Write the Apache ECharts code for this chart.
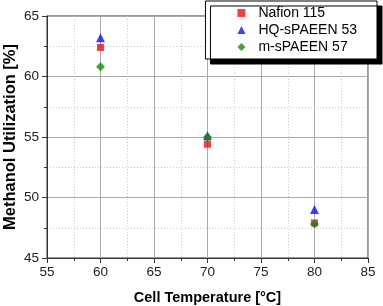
<!DOCTYPE html>
<html><head><meta charset="utf-8">
<script src="https://cdn.jsdelivr.net/npm/echarts@6/dist/echarts.min.js"></script>
<style>html,body{margin:0;padding:0;background:#fff}#c{width:383px;height:306px}</style>
</head><body><div id="c"></div>
<script>
const temperatures = [60, 70, 80];
const nafion115 = [62.4, 54.4, 47.9];
const hqSPAEEN53 = [63.2, 55.1, 49.0];
const mSPAEEN57 = [60.8, 55.0, 47.8];
const seriesNames = ['Nafion 115', 'HQ-sPAEEN 53', 'm-sPAEEN 57'];

const font = 'Liberation Sans, Arial, sans-serif';
const pair = arr => temperatures.map((t, i) => [t, arr[i]]);
const chart = echarts.init(document.getElementById('c'), null, {renderer: 'canvas'});
chart.setOption({
  animation: false,
  backgroundColor: '#fff',
  grid: {left: 47, right: 15, top: 16, bottom: 48, show: true, borderColor: '#333', borderWidth: 1, containLabel: false, outerBoundsMode: 'none'},
  legend: {
    right: 6, top: 1, orient: 'vertical',
    backgroundColor: '#fff', borderColor: '#000', borderWidth: 1,
    shadowColor: '#000', shadowOffsetX: 5, shadowOffsetY: 5, shadowBlur: 0,
    padding: [5, 20, 5, 32], itemGap: 3, itemWidth: 8, itemHeight: 8,
    textStyle: {fontFamily: font, fontSize: 14, color: '#000', padding: [0, 0, 0, 8]},
    data: seriesNames
  },
  xAxis: {
    type: 'value', min: 55, max: 85, interval: 5,
    name: 'Cell Temperature [°C]', nameLocation: 'middle', nameGap: 32, nameMoveOverlap: false,
    nameTextStyle: {fontFamily: font, fontSize: 14.5, fontWeight: 'bold', color: '#000'},
    axisLine: {show: true, onZero: false, lineStyle: {color: '#333'}},
    axisTick: {show: true, inside: false, length: 5, lineStyle: {color: '#333'}},
    minorTick: {show: true, splitNumber: 2, length: 3, lineStyle: {color: '#333'}},
    axisLabel: {fontFamily: font, fontSize: 13.5, color: '#222', margin: 7},
    splitLine: {show: true, lineStyle: {color: '#aaa', width: 1}},
    minorSplitLine: {show: true, lineStyle: {color: '#ccc', type: [1, 2]}}
  },
  yAxis: {
    type: 'value', min: 45, max: 65, interval: 5,
    name: 'Methanol Utilization [%]', nameLocation: 'middle', nameGap: 28, nameMoveOverlap: false,
    nameTextStyle: {fontFamily: font, fontSize: 16.5, fontWeight: 'bold', color: '#000'},
    axisLine: {show: true, onZero: false, lineStyle: {color: '#333'}},
    axisTick: {show: true, inside: false, length: 5, lineStyle: {color: '#333'}},
    minorTick: {show: true, splitNumber: 2, length: 3, lineStyle: {color: '#333'}},
    axisLabel: {fontFamily: font, fontSize: 13.5, color: '#222', margin: 8},
    splitLine: {show: true, lineStyle: {color: '#aaa', width: 1}},
    minorSplitLine: {show: true, lineStyle: {color: '#ccc', type: [1, 2]}}
  },
  series: [
    {name: seriesNames[0], type: 'scatter', symbol: 'rect', symbolSize: 7, itemStyle: {color: '#ee1111'}, data: pair(nafion115), z: 3},
    {name: seriesNames[1], type: 'scatter', symbol: 'triangle', symbolSize: 9, itemStyle: {color: '#1111ee'}, data: pair(hqSPAEEN53), z: 2},
    {name: seriesNames[2], type: 'scatter', symbol: 'diamond', symbolSize: 9, itemStyle: {color: '#138a13'}, data: pair(mSPAEEN57), z: 4}
  ]
});
</script></body></html>
